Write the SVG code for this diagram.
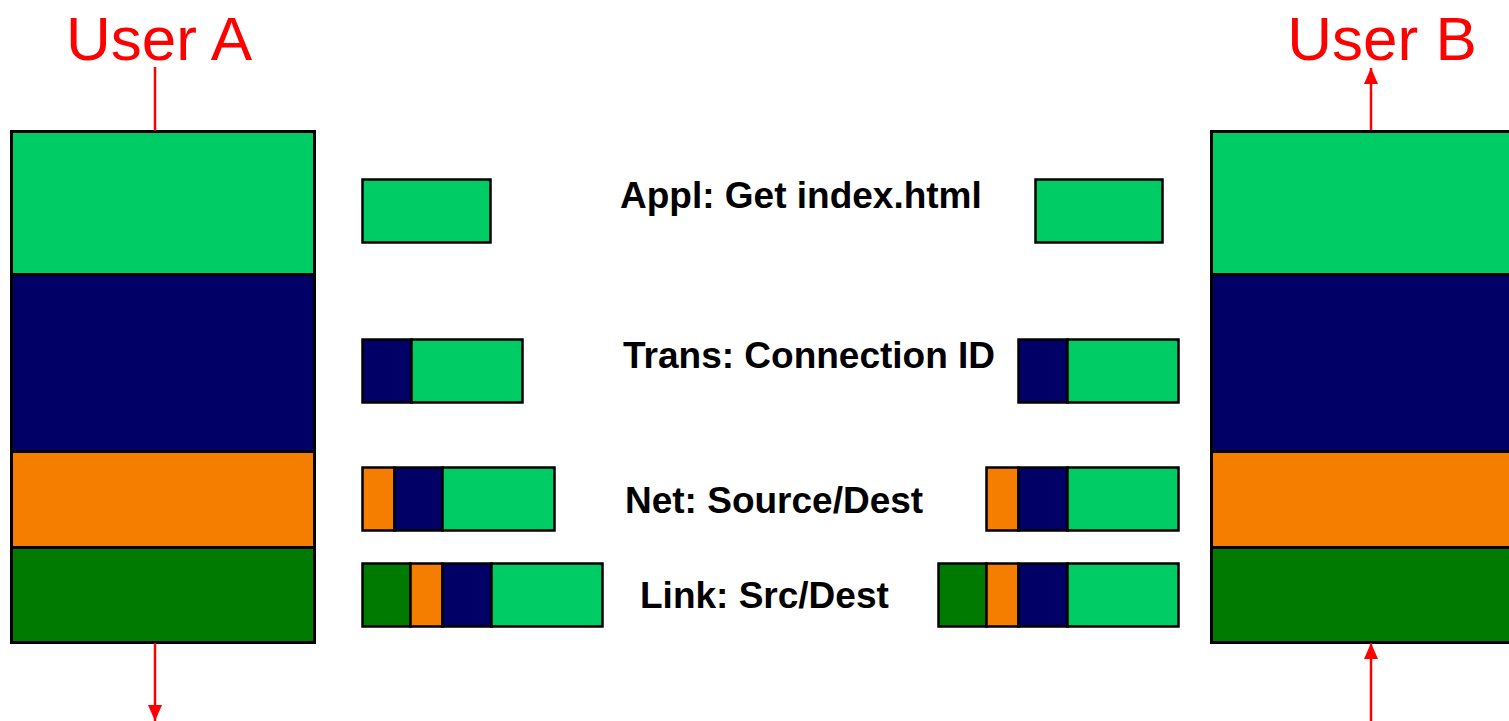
<svg xmlns="http://www.w3.org/2000/svg" width="1509" height="721" viewBox="0 0 1509 721">
  <style>
    .appl { fill: #00cc66; }
    .trans { fill: #000066; }
    .net { fill: #f57d00; }
    .link { fill: #007a00; }
    .edge { stroke: #000; stroke-width: 3; }
    .pkt { stroke: #000; stroke-width: 2.5; }
    .user { font-family: "Liberation Sans", Arial, sans-serif; font-size: 62px; fill: #ff0000; }
    .label { font-family: "Liberation Sans", Arial, sans-serif; font-size: 37px; font-weight: bold; fill: #000; }
    .wire { stroke: #ff0000; stroke-width: 2.5; fill: none; }
  </style>
  <defs>
    <marker id="head" viewBox="0 0 16 14" refX="16" refY="7" markerWidth="16" markerHeight="14" markerUnits="userSpaceOnUse" orient="auto">
      <path d="M0,0 L16,7 L0,14 Z" fill="#ff0000"/>
    </marker>
  </defs>

  <rect width="1509" height="721" fill="#ffffff"/>

  <!-- protocol stack of host A -->
  <g id="stackA">
    <rect class="appl edge" x="11.5" y="131.5" width="303" height="143"/>
    <rect class="trans edge" x="11.5" y="274.5" width="303" height="177"/>
    <rect class="net edge" x="11.5" y="451.5" width="303" height="96"/>
    <rect class="link edge" x="11.5" y="547.5" width="303" height="95"/>
  </g>

  <!-- protocol stack of host B -->
  <g id="stackB">
    <rect class="appl edge" x="1211.5" y="131.5" width="310" height="143"/>
    <rect class="trans edge" x="1211.5" y="274.5" width="310" height="177"/>
    <rect class="net edge" x="1211.5" y="451.5" width="310" height="96"/>
    <rect class="link edge" x="1211.5" y="547.5" width="310" height="95"/>
  </g>

  <!-- user labels -->
  <g id="userA"><text class="user" x="159" y="60" text-anchor="middle">User A</text></g>
  <g id="userB"><text class="user" x="1382" y="60" text-anchor="middle">User B</text></g>

  <!-- layer labels -->
  <g id="labels">
    <text class="label" x="620" y="208">Appl: Get index.html</text>
    <text class="label" x="623" y="368">Trans: Connection ID</text>
    <text class="label" x="625" y="513">Net: Source/Dest</text>
    <text class="label" x="640" y="608">Link: Src/Dest</text>
  </g>

  <!-- packets at sender side -->
  <g id="pktA-appl">
    <rect class="appl pkt" x="362.5" y="179.5" width="128" height="63"/>
  </g>
  <g id="pktA-trans">
    <rect class="trans pkt" x="362.5" y="339.5" width="49" height="63"/>
    <rect class="appl pkt" x="411.5" y="339.5" width="111" height="63"/>
  </g>
  <g id="pktA-net">
    <rect class="net pkt" x="362.5" y="467.5" width="32" height="63"/>
    <rect class="trans pkt" x="394.5" y="467.5" width="48" height="63"/>
    <rect class="appl pkt" x="442.5" y="467.5" width="112" height="63"/>
  </g>
  <g id="pktA-link">
    <rect class="link pkt" x="362.5" y="563.5" width="48" height="63"/>
    <rect class="net pkt" x="410.5" y="563.5" width="32" height="63"/>
    <rect class="trans pkt" x="442.5" y="563.5" width="49" height="63"/>
    <rect class="appl pkt" x="491.5" y="563.5" width="111" height="63"/>
  </g>

  <!-- packets at receiver side -->
  <g id="pktB-appl">
    <rect class="appl pkt" x="1035.5" y="179.5" width="127" height="63"/>
  </g>
  <g id="pktB-trans">
    <rect class="trans pkt" x="1018.5" y="339.5" width="49" height="63"/>
    <rect class="appl pkt" x="1067.5" y="339.5" width="111" height="63"/>
  </g>
  <g id="pktB-net">
    <rect class="net pkt" x="986.5" y="467.5" width="32" height="63"/>
    <rect class="trans pkt" x="1018.5" y="467.5" width="49" height="63"/>
    <rect class="appl pkt" x="1067.5" y="467.5" width="111" height="63"/>
  </g>
  <g id="pktB-link">
    <rect class="link pkt" x="938.5" y="563.5" width="48" height="63"/>
    <rect class="net pkt" x="986.5" y="563.5" width="32" height="63"/>
    <rect class="trans pkt" x="1018.5" y="563.5" width="49" height="63"/>
    <rect class="appl pkt" x="1067.5" y="563.5" width="111" height="63"/>
  </g>

  <!-- data flow connectors -->
  <g id="connectors">
    <line class="wire" x1="155" y1="67" x2="155" y2="131"/>
    <line class="wire" x1="155" y1="643" x2="155" y2="721" marker-end="url(#head)"/>
    <line class="wire" x1="1371" y1="721" x2="1371" y2="643" marker-end="url(#head)"/>
    <line class="wire" x1="1371" y1="130" x2="1371" y2="68" marker-end="url(#head)"/>
  </g>
</svg>
